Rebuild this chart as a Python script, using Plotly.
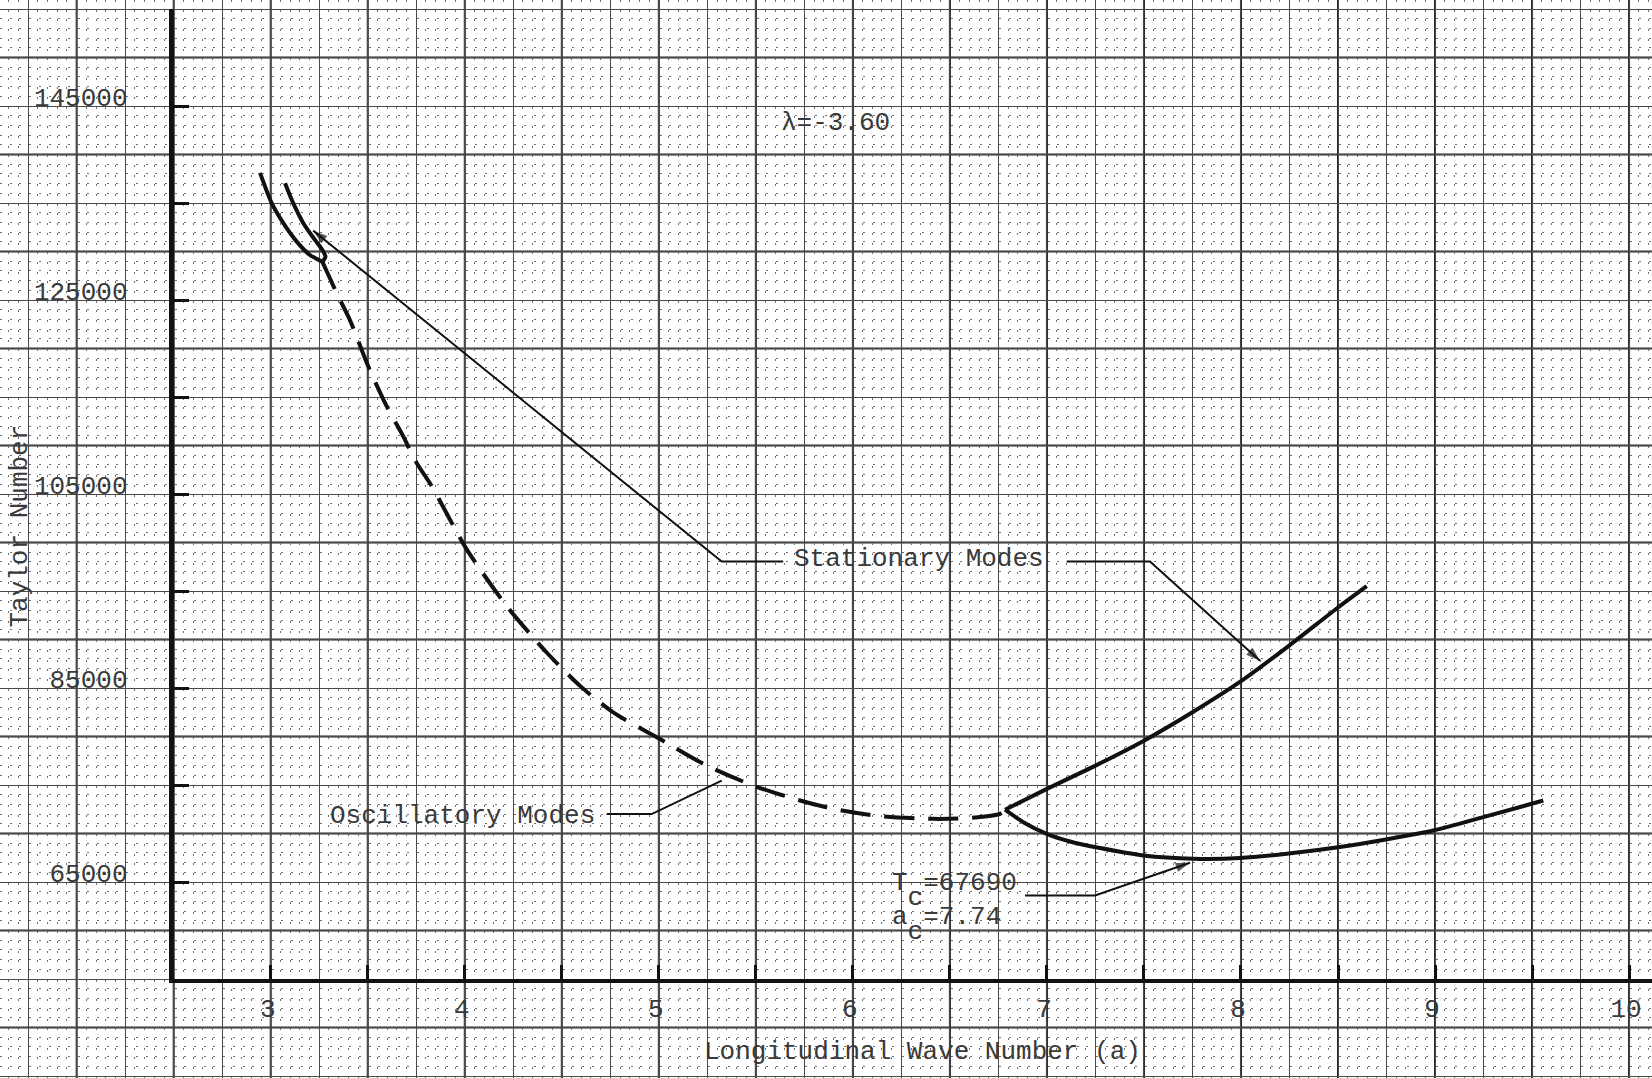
import numpy as np
import plotly.graph_objects as go

# ---------------- data ----------------
# stationary modes, two short upper-left branches meeting at a cusp
stat_a_x = [2.945, 3.005, 3.065, 3.134, 3.202, 3.266]
stat_a_y = [138100, 134980, 132920, 131020, 129640, 128950]
stat_b_x = [3.074, 3.116, 3.168, 3.228, 3.268, 3.282, 3.266]
stat_b_y = [137040, 134980, 132920, 131190, 130100, 129450, 128950]

# oscillatory modes (dashed)
osc_x = [3.266, 3.305, 3.340, 3.408, 3.503, 3.598, 3.683, 3.752, 3.830, 4.010,
         4.216, 4.422, 4.594, 4.765, 5.006, 5.247, 5.487, 5.728, 5.899, 6.140,
         6.414, 6.587, 6.758, 6.784]
osc_y = [128950, 127240, 125690, 122940, 118140, 114030, 110940, 108200, 105800, 99290,
         93450, 88660, 85220, 82490, 79740, 77000, 74940, 73400, 72540, 71790,
         71510, 71590, 72030, 72450]

# stationary modes, upper right branch
upper_x = [6.784, 7.000, 7.250, 7.500, 7.750, 8.000, 8.250, 8.500, 8.648]
upper_y = [72450, 74600, 77000, 79570, 82500, 85700, 89400, 93300, 95500]

# stationary modes, lower right branch (critical minimum)
lower_x = [6.784, 6.878, 6.999, 7.119, 7.274, 7.497, 7.754, 7.995, 8.236, 8.510,
           8.768, 8.991, 9.249, 9.558]
lower_y = [72450, 71170, 69970, 69180, 68500, 67740, 67400, 67470, 67910, 68600,
           69460, 70310, 71690, 73400]

x_tick_vals = [3, 4, 5, 6, 7, 8, 9, 10]
x_tick_text = ["3", "4", "5", "6", "7", "8", "9", "10"]
y_tick_vals = [65000, 85000, 105000, 125000, 145000]
y_tick_text = ["65000", "85000", "105000", "125000", "145000"]

# ---------------- page geometry ----------------
W, H = 1652, 1078
AX_LEFT_PX, AX_BOTTOM_PX, AX_TOP_PX = 173.7, 979.0, 9.0
PX_PER_X = 194.05            # pixels per unit of wave number
PX_PER_Y = 9.70 / 1000.0     # pixels per unit of Taylor number
X0, Y0, Y1 = 2.5, 55000, 155000

x_full = [X0 - AX_LEFT_PX / PX_PER_X, X0 + (W - AX_LEFT_PX) / PX_PER_X]
y_full = [Y0 - (H - AX_BOTTOM_PX) / PX_PER_Y, Y1 + AX_TOP_PX / PX_PER_Y]

FONT = "Liberation Mono, Courier New, monospace"
TXT = "#3a3a3a"
INK = "#111111"

fig = go.Figure()

def curve(x, y, dash=None):
    ln = dict(color=INK, width=4, shape="spline", smoothing=0.7)
    if dash:
        ln["dash"] = dash
    fig.add_trace(go.Scatter(x=x, y=y, mode="lines", line=ln, xaxis="x2", yaxis="y2",
                             showlegend=False))

curve(stat_a_x, stat_a_y)
curve(stat_b_x, stat_b_y)
curve(osc_x, osc_y, dash="30px,14px")
curve(upper_x, upper_y)
curve(lower_x, lower_y)

# leader lines; the last point of an arrowed leader carries an arrow marker
leaders = [
    ([5.641, 5.324, 3.219], [98030, 98030, 132150], True),
    ([7.102, 7.531, 8.098], [98030, 98030, 87800], True),
    ([4.731, 4.963, 5.324], [72000, 72000, 75450], False),
    ([6.887, 7.248, 7.737], [63620, 63620, 66990], True),
]
for lx, ly, arrow in leaders:
    n = len(lx)
    fig.add_trace(go.Scatter(
        x=lx, y=ly, mode="lines+markers" if arrow else "lines",
        line=dict(color=INK, width=2),
        marker=dict(symbol=["circle"] * (n - 1) + ["arrow"], size=[0] * (n - 1) + [15],
                    angleref="previous", color=INK, line=dict(width=0)),
        xaxis="x2", yaxis="y2", showlegend=False, hoverinfo="skip"))

def txt(x, y, s, xanchor="center", yanchor="middle", angle=0):
    return dict(x=x, y=y, xref="x", yref="y", text=s, showarrow=False, xanchor=xanchor,
                yanchor=yanchor, textangle=angle, align="left",
                font=dict(family=FONT, size=26, color=TXT))

low_c = "<span style='baseline-shift:-15px'>c</span>"
annotations = [
    txt(5.913, 143270, "λ=-3.60"),
    txt(5.687, 98300, "Stationary Modes", xanchor="left"),
    txt(4.682, 71850, "Oscillatory Modes", xanchor="right"),
    txt(6.191, 66600, "T" + low_c + "=67690<br>a" + low_c + "=7.74", xanchor="left", yanchor="top"),
    txt(6.357, 47444, "Longitudinal Wave Number (a)"),
    txt(1.703, 101650, "Taylor Number", angle=-90),
]

# heavy graph-paper rulings every 0.5 / 10000
shapes = []
for v in np.arange(1.5, 10.5, 0.5):
    shapes.append(dict(type="line", xref="x", yref="paper", x0=v, x1=v, y0=0, y1=1,
                       line=dict(color="#222", width=2), layer="between"))
for v in np.arange(40000, 160001, 10000):
    shapes.append(dict(type="line", xref="paper", yref="y", x0=0, x1=1, y0=v, y1=v,
                       line=dict(color="#222", width=2), layer="between"))

grid_minor = dict(showgrid=True, gridcolor="#6f6f6f", gridwidth=1, griddash="2px,7.7px")

fig.update_layout(
    width=W, height=H,
    margin=dict(l=0, r=0, t=0, b=0),
    paper_bgcolor="white", plot_bgcolor="rgba(0,0,0,0)",
    showlegend=False,
    xaxis=dict(domain=[0, 1], range=x_full, showgrid=True, dtick=0.25, tick0=0,
               gridcolor="#4a4a4a", gridwidth=1, minor=dict(dtick=0.05, tick0=0, **grid_minor),
               showticklabels=False, ticks="", zeroline=False, showline=False, fixedrange=True),
    yaxis=dict(domain=[0, 1], range=y_full, showgrid=True, dtick=5000, tick0=0,
               gridcolor="#4a4a4a", gridwidth=1, minor=dict(dtick=1000, tick0=0, **grid_minor),
               showticklabels=False, ticks="", zeroline=False, showline=False, fixedrange=True),
    xaxis2=dict(domain=[AX_LEFT_PX / W, 1], range=[X0, x_full[1]], anchor="y2",
                showgrid=False, zeroline=False, showline=True, linecolor=INK, linewidth=4,
                ticks="inside", ticklen=14, tickwidth=3, tickcolor=INK,
                minor=dict(ticks="inside", dtick=0.5, tick0=0, ticklen=14, tickwidth=3,
                           tickcolor=INK, showgrid=False),
                tickmode="array", tickvals=x_tick_vals, ticktext=x_tick_text,
                tickfont=dict(family=FONT, size=26, color=TXT), ticklabelstandoff=3,
                ticklabelshift=-3, fixedrange=True),
    yaxis2=dict(domain=[(H - AX_BOTTOM_PX) / H, (H - AX_TOP_PX) / H], range=[Y0, Y1], anchor="x2",
                showgrid=False, zeroline=False, showline=True, linecolor=INK, linewidth=5,
                ticks="inside", ticklen=15, tickwidth=3, tickcolor=INK,
                minor=dict(ticks="inside", dtick=10000, tick0=55000, ticklen=15, tickwidth=3,
                           tickcolor=INK, showgrid=False),
                tickmode="array", tickvals=y_tick_vals, ticktext=y_tick_text,
                tickfont=dict(family=FONT, size=26, color=TXT), ticklabelstandoff=36,
                ticklabelshift=-9, fixedrange=True),
    annotations=annotations,
    shapes=shapes,
)

fig.write_html("out.html")
